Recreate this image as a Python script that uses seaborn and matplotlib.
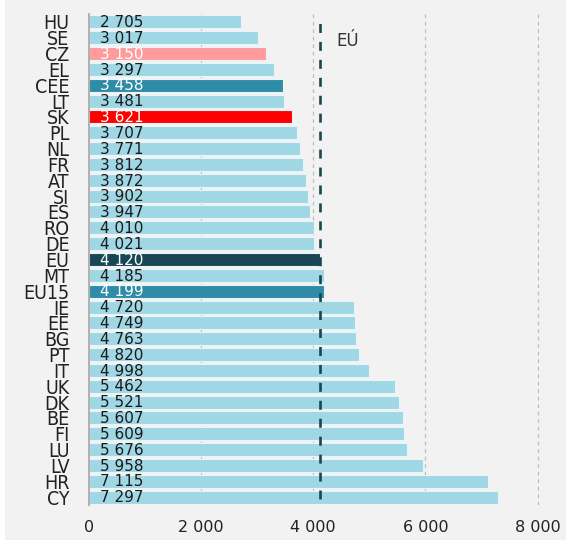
import matplotlib
matplotlib.use("Agg")
import matplotlib.pyplot as plt
import matplotlib.patches as mpatches
from matplotlib import font_manager
import seaborn as sns
import pandas as pd

codes = ["HU", "SE", "CZ", "EL", "CEE", "LT", "SK", "PL", "NL", "FR", "AT", "SI",
         "ES", "RO", "DE", "EU", "MT", "EU15", "IE", "EE", "BG", "PT", "IT", "UK",
         "DK", "BE", "FI", "LU", "LV", "HR", "CY"]
values = [2705, 3017, 3150, 3297, 3458, 3481, 3621, 3707, 3771, 3812, 3872, 3902,
          3947, 4010, 4021, 4120, 4185, 4199, 4720, 4749, 4763, 4820, 4998, 5462,
          5521, 5607, 5609, 5676, 5958, 7115, 7297]
x_ticks = [0, 2000, 4000, 6000, 8000]
eu_label = "EÚ"

base_color = "#a0d7e4"
highlight = {"CZ": "#ff9b9b", "CEE": "#2e8ca7", "SK": "#ff0000",
             "EU": "#184652", "EU15": "#2e8ca7"}
white_text = set(highlight)

df = pd.DataFrame({"code": codes, "value": values})
palette = {c: highlight.get(c, base_color) for c in codes}

sns.set_theme(style="white")
plt.rcParams["font.family"] = ["DejaVu Sans"]

# narrow face for the category labels
names = {f.name for f in font_manager.fontManager.ttflist}
narrow = "Liberation Sans Narrow" if "Liberation Sans Narrow" in names else "DejaVu Sans"

fig = plt.figure(figsize=(5.66, 5.40), dpi=100, facecolor="#f2f2f2")
fig.patches.append(mpatches.Rectangle((0, 0), 5 / 566, 1, transform=fig.transFigure,
                                      facecolor="white", edgecolor="none", zorder=-1))
ax = fig.add_axes([89 / 566, 1 - 505 / 540, (560 - 89) / 566, (505 - 14) / 540])
ax.set_facecolor("#f2f2f2")

sns.barplot(data=df, x="value", y="code", hue="code", palette=palette, legend=False,
            orient="h", width=0.82, saturation=1, edgecolor="#e8f4f7", linewidth=0.8,
            ax=ax, zorder=2)

ax.set_xlim(0, 8400)
ax.set_ylim(len(codes) - 0.5, -0.5)

# dashed vertical grid
for t in x_ticks[1:]:
    ax.axvline(t, color="#bdbdbd", lw=0.9, ls=(0, (3, 3)), zorder=1)

# EU average reference line
eu_value = values[codes.index("EU")]
ax.axvline(eu_value, ymin=0.013, ymax=0.986, color="#184652", lw=1.9,
           ls=(0, (3.4, 3.4)), zorder=4)
ax.text(eu_value + 290, 1.2, eu_label, fontsize=12, color="#333333",
        va="center", ha="left")

# value labels inside the bars
for i, (c, v) in enumerate(zip(codes, values)):
    ax.annotate(f"{v:,}".replace(",", " "), xy=(0, i), xytext=(8, -0.5),
                textcoords="offset points", va="center", ha="left", fontsize=11,
                color="white" if c in white_text else "#1a1a1a", zorder=5)

ax.set_xticks(x_ticks)
ax.set_xticklabels([f"{t:,}".replace(",", " ") for t in x_ticks])
ax.tick_params(axis="x", length=0, pad=11, labelsize=11.5, labelcolor="#222222")
ax.tick_params(axis="y", length=0, pad=14)
for lbl in ax.get_yticklabels():
    lbl.set_fontfamily([narrow, "DejaVu Sans"])
    lbl.set_fontstretch("condensed")
    lbl.set_fontsize(14)
    lbl.set_color("#222222")

ax.set_xlabel("")
ax.set_ylabel("")
for s in ["top", "right", "bottom"]:
    ax.spines[s].set_visible(False)
ax.spines["left"].set_color("#aaaaaa")
ax.spines["left"].set_linewidth(1.3)
ax.spines["left"].set_zorder(3)

fig.savefig("out.png", dpi=100, facecolor=fig.get_facecolor())
